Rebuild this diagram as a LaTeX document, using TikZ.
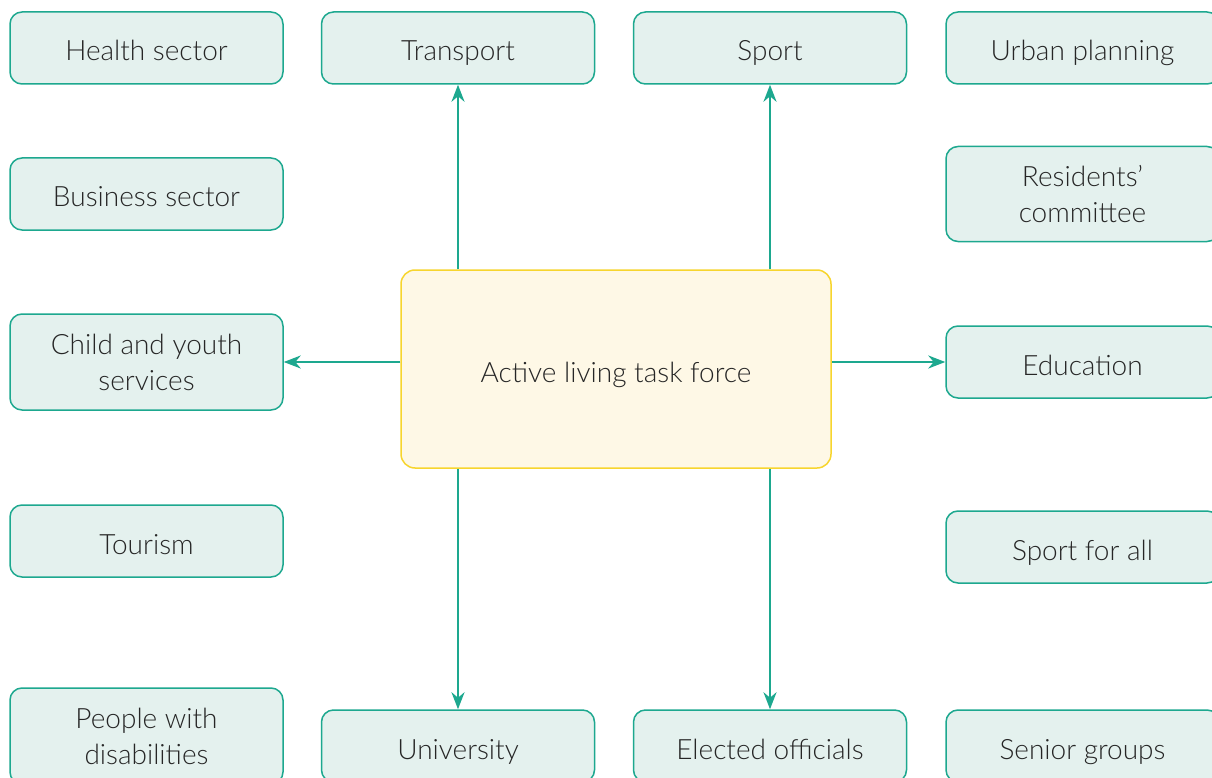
\documentclass[tikz,border=0pt]{standalone}
\usepackage{fontspec}
\setmainfont{Lato Light}
\usetikzlibrary{arrows.meta}
\definecolor{teal1}{HTML}{1DA88F}
\definecolor{tealfill}{HTML}{E4F1EE}
\definecolor{yel}{HTML}{F7D52E}
\definecolor{yelfill}{HTML}{FEF8E6}
\definecolor{txt}{HTML}{262626}
\tikzset{
  box/.style={draw=teal1, fill=tealfill, line width=1.5pt, rounded corners=12pt,
    minimum width=273pt, minimum height=72pt, align=center, text=txt,
    font=\fontsize{28}{36}\selectfont, inner sep=0pt, text height=30pt, text depth=4pt},
  tall/.style={minimum height=96pt, text height=, text depth=},
  core/.style={draw=yel, fill=yelfill, line width=1.5pt, rounded corners=14pt,
    minimum width=430pt, minimum height=198pt, align=center, text=txt,
    font=\fontsize{28}{36}\selectfont, inner sep=0pt, text height=30pt, text depth=4pt},
  arr/.style={draw=teal1, line width=2.5pt, -{Stealth[length=17pt,width=13pt]}}
}
\begin{document}
\begin{tikzpicture}[x=1pt,y=-1pt]
\useasboundingbox (0,0) rectangle (1212,778);
\clip (0,0) rectangle (1212,778);
\fill[white] (0,0) rectangle (1212,778);
% left column
\node[box] (health) at (146.5,48) {Health sector};
\node[box] (business) at (146.5,194) {Business sector};
\node[box,tall] (child) at (146.5,362) {Child and youth\\services};
\node[box] (tourism) at (146.5,541) {Tourism};
\node[box,tall] (people) at (146.5,736) {People with\\disabilities};
% middle columns
\node[box] (transport) at (458,48) {Transport};
\node[box] (sport) at (770,48) {Sport};
\node[box] (university) at (458,746) {University};
\node[box] (elected) at (770,746) {Elected officials};
% right column
\node[box] (urban) at (1082.5,48) {Urban planning};
\node[box,tall,minimum height=95pt] (residents) at (1082.5,194) {Residents’\\committee};
\node[box] (education) at (1082.5,362) {Education};
\node[box] (sportall) at (1082.5,547) {Sport for all};
\node[box] (senior) at (1082.5,746) {Senior groups};
% center
\node[core] (task) at (616,369) {Active living task force};
% arrows
\draw[arr] (task.north -| transport) -- (transport.south);
\draw[arr] (task.north -| sport) -- (sport.south);
\draw[arr] (task.south -| university) -- (university.north);
\draw[arr] (task.south -| elected) -- (elected.north);
\draw[arr] (task.west |- child) -- (child.east);
\draw[arr] (task.east |- education) -- (education.west);
\end{tikzpicture}
\end{document}
